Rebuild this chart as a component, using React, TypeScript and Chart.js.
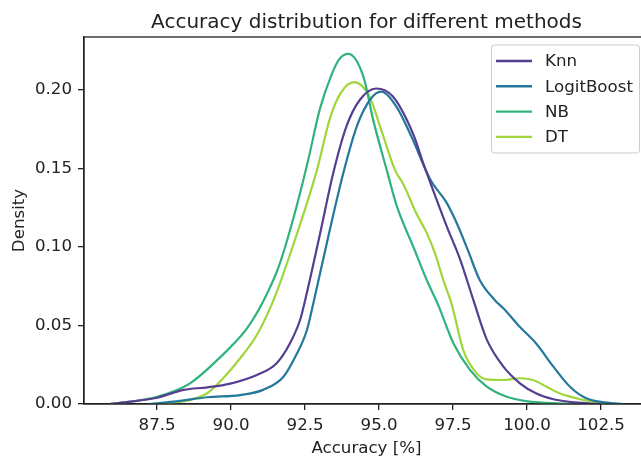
import React, { useEffect, useRef } from 'react';
import { Chart, registerables } from 'chart.js';

Chart.register(...registerables);

const titleText = 'Accuracy distribution for different methods';
const xLabel = 'Accuracy [%]';
const yLabel = 'Density';

const seriesNames = ['Knn', 'LogitBoost', 'NB', 'DT'];
const seriesColors = ['#563e90', '#23789b', '#2fb37b', '#a0d53b'];

const xTicks = [87.5, 90, 92.5, 95, 97.5, 100, 102.5];
const xTickLabels = ['87.5', '90.0', '92.5', '95.0', '97.5', '100.0', '102.5'];
const yTicks = [0, 0.05, 0.1, 0.15, 0.2];
const yTickLabels = ['0.00', '0.05', '0.10', '0.15', '0.20'];

const X_MIN = 85.03;
const X_MAX = 104.12;
const Y_MIN = 0;
const Y_MAX = 0.2338;

const knnX = [85.9, 86.6, 87.5, 88.4, 89.2, 89.97, 90.87, 91.54, 91.99, 92.33, 92.5, 93.0, 93.45, 93.9, 94.36, 94.9, 95.46, 96.15, 96.5, 96.73, 97.29, 97.74, 98.19, 98.64, 99.2, 99.76, 100.3, 100.89, 101.6, 102.47];
const knnY = [0, 0.0015, 0.004, 0.009, 0.0106, 0.013, 0.0185, 0.026, 0.0387, 0.0535, 0.066, 0.108, 0.147, 0.177, 0.194, 0.201, 0.196, 0.172, 0.153, 0.141, 0.113, 0.092, 0.066, 0.041, 0.0238, 0.0132, 0.0068, 0.003, 0.001, 0];

const logitX = [87.2, 88.05, 89.2, 90.3, 91.08, 91.77, 92.22, 92.56, 92.8, 93.3, 93.79, 94.25, 94.7, 95.07, 95.6, 96.1, 96.73, 97.29, 97.63, 98.0, 98.4, 98.92, 99.2, 99.76, 100.3, 100.89, 101.45, 102.0, 102.6, 103.24];
const logitY = [0, 0.0015, 0.0043, 0.0057, 0.009, 0.0174, 0.032, 0.047, 0.066, 0.108, 0.147, 0.177, 0.194, 0.199, 0.189, 0.17, 0.143, 0.128, 0.115, 0.098, 0.079, 0.066, 0.061, 0.049, 0.0387, 0.0238, 0.011, 0.0036, 0.001, 0];

const nbX = [85.88, 86.5, 87.5, 88.6, 89.7, 90.07, 90.53, 91.1, 91.6, 92.1, 92.6, 93.0, 93.4, 93.65, 93.96, 94.47, 94.8, 95.26, 95.6, 96.16, 96.61, 97.0, 97.51, 98.07, 98.64, 99.31, 100.1, 101.0, 102.0];
const nbY = [0, 0.0012, 0.0046, 0.013, 0.031, 0.038, 0.048, 0.066, 0.087, 0.118, 0.155, 0.188, 0.21, 0.2195, 0.223, 0.2085, 0.181, 0.149, 0.126, 0.1, 0.079, 0.063, 0.0387, 0.0217, 0.011, 0.0046, 0.0015, 0.0004, 0];

const dtX = [87.53, 88.6, 89.2, 89.74, 90.3, 90.87, 91.43, 92.2, 92.9, 93.34, 93.7, 94.16, 94.7, 95.03, 95.54, 95.82, 96.27, 96.61, 96.89, 97.17, 97.46, 97.85, 98.3, 98.64, 99.2, 99.76, 100.2, 100.66, 101.1, 101.8, 102.4, 103.1];
const dtY = [0, 0.0025, 0.007, 0.0166, 0.029, 0.044, 0.066, 0.107, 0.149, 0.182, 0.198, 0.205, 0.195, 0.177, 0.149, 0.14, 0.121, 0.109, 0.096, 0.079, 0.063, 0.034, 0.0195, 0.0157, 0.0153, 0.0164, 0.0153, 0.011, 0.0068, 0.003, 0.001, 0];

const seriesX = [knnX, logitX, nbX, dtX];
const seriesY = [knnY, logitY, nbY, dtY];

const FONT = '"DejaVu Sans", "Liberation Sans", sans-serif';
const INK = '#222222';

const decorPlugin = {
  id: 'decor',
  afterDraw(chart: any) {
    const { ctx, chartArea: a } = chart;
    ctx.save();
    ctx.strokeStyle = INK;
    ctx.lineWidth = 1.3;
    ctx.strokeRect(a.left, a.top, a.right - a.left, a.bottom - a.top);

    const cx = (a.left + a.right) / 2;
    ctx.fillStyle = INK;
    ctx.textAlign = 'center';
    ctx.textBaseline = 'alphabetic';
    ctx.font = `20px ${FONT}`;
    ctx.fillText(titleText, cx, a.top - 9.5);

    ctx.font = `16.67px ${FONT}`;
    ctx.fillText(xLabel, cx, a.bottom + 49);

    ctx.save();
    ctx.translate(a.left - 60, (a.top + a.bottom) / 2);
    ctx.rotate(-Math.PI / 2);
    ctx.fillText(yLabel, 0, 0);
    ctx.restore();

    const right = a.right - 9.5;
    const top = a.top + 8;
    const w = 148;
    const h = 108;
    const left = right - w;
    const r = 3;
    ctx.beginPath();
    ctx.moveTo(left + r, top);
    ctx.lineTo(right - r, top);
    ctx.quadraticCurveTo(right, top, right, top + r);
    ctx.lineTo(right, top + h - r);
    ctx.quadraticCurveTo(right, top + h, right - r, top + h);
    ctx.lineTo(left + r, top + h);
    ctx.quadraticCurveTo(left, top + h, left, top + h - r);
    ctx.lineTo(left, top + r);
    ctx.quadraticCurveTo(left, top, left + r, top);
    ctx.closePath();
    ctx.fillStyle = 'rgba(255,255,255,0.8)';
    ctx.fill();
    ctx.strokeStyle = '#cccccc';
    ctx.lineWidth = 1;
    ctx.stroke();

    ctx.textAlign = 'left';
    ctx.textBaseline = 'middle';
    ctx.font = `16.67px ${FONT}`;
    chart.data.datasets.forEach((ds: any, i: number) => {
      const y = top + 16 + i * 25.3;
      ctx.strokeStyle = ds.borderColor;
      ctx.lineWidth = 2.4;
      ctx.beginPath();
      ctx.moveTo(left + 4.5, y);
      ctx.lineTo(left + 40.5, y);
      ctx.stroke();
      ctx.fillStyle = INK;
      ctx.fillText(ds.label, left + 53.5, y + 1);
    });
    ctx.restore();
  },
};

export default function App() {
  const ref = useRef<HTMLCanvasElement | null>(null);

  useEffect(() => {
    if (!ref.current) return;
    const datasets = seriesNames.map((name, i) => ({
      label: name,
      data: seriesX[i].map((x, j) => ({ x, y: seriesY[i][j] })),
      borderColor: seriesColors[i],
      backgroundColor: seriesColors[i],
      borderWidth: 2.2,
      pointRadius: 0,
      fill: false,
      cubicInterpolationMode: 'monotone' as const,
    }));

    const chart = new Chart(ref.current, {
      type: 'line',
      data: { datasets },
      options: {
        responsive: false,
        animation: false,
        devicePixelRatio: 1,
        layout: { padding: { left: 0, right: 11, top: 37, bottom: 0 } },
        plugins: {
          legend: { display: false },
          title: { display: false },
          tooltip: { enabled: false },
        },
        scales: {
          x: {
            type: 'linear',
            min: X_MIN,
            max: X_MAX,
            afterBuildTicks: (s: any) => {
              s.ticks = xTicks.map((v) => ({ value: v }));
            },
            afterFit: (s: any) => {
              s.height = 53;
            },
            ticks: {
              callback: (_v: any, i: number) => xTickLabels[i],
              font: { family: FONT, size: 16.67 },
              color: INK,
              padding: 6,
              maxRotation: 0,
              autoSkip: false,
            },
            grid: { drawOnChartArea: false, drawTicks: true, tickLength: 6, color: INK, lineWidth: 1.3 },
            border: { display: true, color: INK, width: 1.3 },
          },
          y: {
            type: 'linear',
            min: Y_MIN,
            max: Y_MAX,
            afterBuildTicks: (s: any) => {
              s.ticks = yTicks.map((v) => ({ value: v }));
            },
            afterFit: (s: any) => {
              s.width = 84;
            },
            ticks: {
              callback: (_v: any, i: number) => yTickLabels[i],
              font: { family: FONT, size: 16.67 },
              color: INK,
              padding: 6,
              autoSkip: false,
            },
            grid: { drawOnChartArea: false, drawTicks: true, tickLength: 6, color: INK, lineWidth: 1.3 },
            border: { display: true, color: INK, width: 1.3 },
          },
        },
      },
      plugins: [decorPlugin],
    });
    return () => chart.destroy();
  }, []);

  return (
    <div
      style={{
        position: 'fixed',
        left: 0,
        top: 0,
        width: 641,
        height: 457,
        overflow: 'hidden',
        background: '#ffffff',
      }}
    >
      <canvas ref={ref} width={660} height={457} style={{ display: 'block' }} />
    </div>
  );
}
